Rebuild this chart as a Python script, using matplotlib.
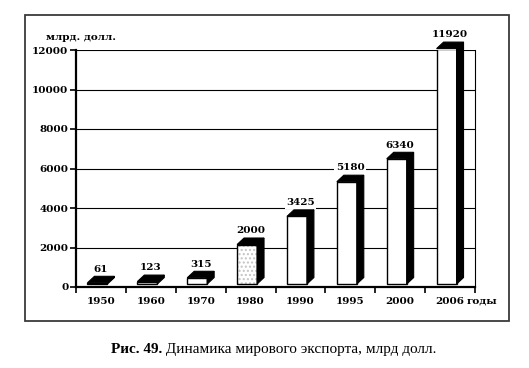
import matplotlib
matplotlib.use("Agg")
import matplotlib.pyplot as plt
from matplotlib.patches import Polygon, Rectangle

years = ["1950", "1960", "1970", "1980", "1990", "1995", "2000", "2006"]
values = [61, 123, 315, 2000, 3425, 5180, 6340, 11920]
yticks = [0, 2000, 4000, 6000, 8000, 10000, 12000]
ylabel = "млрд. долл."
xlabel = "годы"
cap_bold = "Рис. 49."
cap_rest = " Динамика мирового экспорта, млрд долл."

W, H = 529, 368
fig = plt.figure(figsize=(W / 100, H / 100), dpi=100)
fig.patch.set_facecolor("white")

# outer frame
fig.add_artist(Rectangle((25 / W, 1 - 321 / H), (509 - 25) / W, (321 - 15) / H,
                         transform=fig.transFigure, fill=False,
                         edgecolor="#3a3a3a", linewidth=1.3))

ax = fig.add_axes([76 / W, 1 - 287 / H, (475 - 76) / W, (287 - 50) / H])
ax.set_xlim(-0.5, len(years) - 0.5)
ax.set_ylim(0, 12000)
ax.set_axisbelow(True)

fs = 7.5
fnt = dict(family="DejaVu Serif", weight="bold", size=fs)

# gridlines
ax.yaxis.grid(True, color="black", linewidth=0.8)
ax.set_yticks(yticks)
ax.set_yticklabels([str(t) for t in yticks], fontdict=fnt)
ax.tick_params(axis="y", direction="out", length=4, width=1.2, pad=1.5)

ax.set_xticks(range(len(years)))
ax.set_xticklabels(years, fontdict=fnt)
ax.tick_params(axis="x", which="major", length=0, pad=7)
ax.set_xticks([i - 0.5 for i in range(len(years) + 1)], minor=True)
ax.tick_params(axis="x", which="minor", direction="out", length=4, width=1.2)

for s in ["left", "bottom"]:
    ax.spines[s].set_linewidth(1.6)
ax.spines["top"].set_visible(False)
ax.spines["right"].set_linewidth(0.8)

base = 150
w = 0.4
off = -0.27
ddx = 0.14
ddy = 330

xs = [i + off for i in range(len(years))]
# stipple on 1980 bar
ax.bar([xs[3]], [values[3]], bottom=base, width=w, align="edge",
       facecolor="white", edgecolor="#c4c4c4", linewidth=0, hatch="....",
       zorder=3)
ax.bar(xs, values, bottom=base, width=w, align="edge",
       facecolor="none", edgecolor="black", linewidth=1.0, zorder=4)
ax.bar([x for i, x in enumerate(xs) if i != 3],
       [v for i, v in enumerate(values) if i != 3], bottom=base, width=w,
       align="edge", facecolor="white", edgecolor="none", zorder=2.9)

for x, v in zip(xs, values):
    top = base + v
    topface = Polygon([(x, top), (x + w, top), (x + w + ddx, top + ddy),
                       (x + ddx, top + ddy)], closed=True, facecolor="black",
                      edgecolor="black", linewidth=0.8, zorder=5, clip_on=False)
    side = Polygon([(x + w, base), (x + w + ddx, base + ddy),
                    (x + w + ddx, top + ddy), (x + w, top)], closed=True,
                   facecolor="black", edgecolor="black", linewidth=0.8,
                   zorder=5, clip_on=False)
    ax.add_patch(topface)
    ax.add_patch(side)

for i, v in enumerate(values):
    ax.annotate(str(v), xy=(i, base + v + ddy), xytext=(0, 5.2),
                textcoords="offset points", ha="center", va="center",
                zorder=6, annotation_clip=False,
                bbox=dict(boxstyle="square,pad=0.15", facecolor="white",
                          edgecolor="none"), **fnt)

fig.text(46 / W, 1 - 37 / H, ylabel, ha="left", va="center", **fnt)
fig.text(467 / W, 1 - 301 / H, xlabel, ha="left", va="center", **fnt)

t1 = fig.text(111 / W, 1 - 356 / H, cap_bold, ha="left", va="bottom",
              family="Liberation Serif", weight="bold", size=11.0)
ax.annotate(cap_rest, xy=(1, 0), xycoords=t1, ha="left", va="bottom",
            family="Liberation Serif", size=11.0, annotation_clip=False)

fig.savefig("out.png", dpi=100, facecolor="white")
